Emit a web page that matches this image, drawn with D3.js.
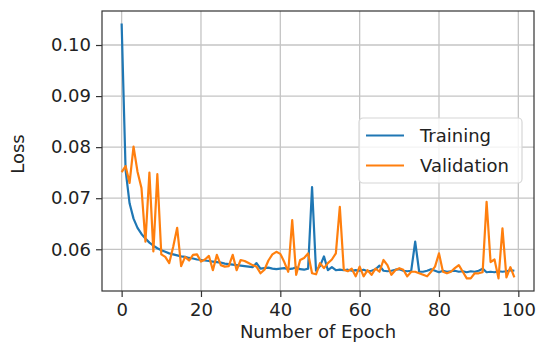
<!DOCTYPE html>
<html>
<head>
<meta charset="utf-8">
<script src="https://cdn.jsdelivr.net/npm/d3@7"></script>
<style>
  body { margin: 0; background: #fff; }
  text { font-family: "DejaVu Sans", sans-serif; fill: #222; }
</style>
</head>
<body>
<svg id="chart" width="550" height="353"></svg>
<script>

let training = [
  0.1042, 0.0755, 0.0690, 0.0660, 0.0642, 0.0630, 0.0621, 0.0613, 0.0607, 0.0602,
  0.0598, 0.0595, 0.0592, 0.0590, 0.0588, 0.0586, 0.0585, 0.0583, 0.0582, 0.0580,
  0.0579, 0.0578, 0.0577, 0.0576, 0.0575, 0.0574, 0.0572, 0.0571, 0.0570, 0.0569,
  0.0568, 0.0567, 0.0566, 0.0565, 0.0573, 0.0562, 0.0563, 0.0564, 0.0562, 0.0561,
  0.0562, 0.0563, 0.0561, 0.0562, 0.0565, 0.0561, 0.0560, 0.0562, 0.0722, 0.0558,
  0.0567, 0.0586, 0.0559, 0.0565, 0.0559, 0.0560, 0.0559, 0.0560, 0.0558, 0.0559,
  0.0558, 0.0560, 0.0557, 0.0558, 0.0561, 0.0568, 0.0558, 0.0557, 0.0558, 0.0560,
  0.0561, 0.0558, 0.0557, 0.0558, 0.0615, 0.0556, 0.0556, 0.0558, 0.0561, 0.0558,
  0.0555, 0.0558, 0.0556, 0.0557, 0.0558, 0.0556, 0.0557, 0.0555, 0.0557, 0.0556,
  0.0558, 0.0562, 0.0555, 0.0556, 0.0555, 0.0557, 0.0556, 0.0557, 0.0559, 0.0558
];

let validation = [
  0.0751, 0.0763, 0.0730, 0.0801, 0.0752, 0.0720, 0.0615, 0.0750, 0.0596, 0.0747,
  0.0590, 0.0585, 0.0573, 0.0605, 0.0642, 0.0567, 0.0585, 0.0578, 0.0589, 0.0590,
  0.0576, 0.0580, 0.0587, 0.0559, 0.0589, 0.0569, 0.0566, 0.0567, 0.0589, 0.0559,
  0.0579, 0.0577, 0.0573, 0.0569, 0.0566, 0.0553, 0.0560, 0.0578, 0.0590, 0.0595,
  0.0591, 0.0575, 0.0556, 0.0657, 0.0550, 0.0579, 0.0583, 0.0592, 0.0553, 0.0551,
  0.0573, 0.0563, 0.0573, 0.0580, 0.0592, 0.0683, 0.0560, 0.0557, 0.0562, 0.0547,
  0.0566, 0.0547, 0.0559, 0.0550, 0.0562, 0.0556, 0.0579, 0.0569, 0.0550, 0.0559,
  0.0563, 0.0560, 0.0547, 0.0556, 0.0556, 0.0553, 0.0550, 0.0547, 0.0556, 0.0566,
  0.0592, 0.0556, 0.0553, 0.0556, 0.0563, 0.0569, 0.0556, 0.0543, 0.0543, 0.0553,
  0.0553, 0.0555, 0.0693, 0.0575, 0.0580, 0.0543, 0.0641, 0.0545, 0.0565, 0.0545
];

let series_names = ["Training", "Validation"];
let series_colors = ["#1f77b4", "#ff7f0e"];
let x_ticks = [0, 20, 40, 60, 80, 100];
let y_ticks = [0.06, 0.07, 0.08, 0.09, 0.10];

let svg = d3.select("#chart"),
    margin = {top: 11, right: 16, bottom: 62, left: 102},
    width = svg.attr("width") - margin.left - margin.right,
    height = svg.attr("height") - margin.top - margin.bottom;

let x = d3.scaleLinear().domain([-4.95, 103.95]).range([0, width]);
let y = d3.scaleLinear().domain([0.05183, 0.10666]).range([height, 0]);

let g = svg.append("g")
    .attr("transform", "translate(" + margin.left + "," + margin.top + ")");

// grid
g.selectAll(".gx").data(x_ticks).enter().append("line")
    .attr("x1", d => x(d)).attr("x2", d => x(d))
    .attr("y1", 0).attr("y2", height)
    .style("stroke", "#c4c4c4").style("stroke-width", 1.3);
g.selectAll(".gy").data(y_ticks).enter().append("line")
    .attr("x1", 0).attr("x2", width)
    .attr("y1", d => y(d)).attr("y2", d => y(d))
    .style("stroke", "#c4c4c4").style("stroke-width", 1.3);

// lines
let line = d3.line().x((d, i) => x(i)).y(d => y(d));
[training, validation].forEach(function(data, k){
    g.append("path")
        .datum(data)
        .attr("d", line)
        .style("fill", "none")
        .style("stroke", series_colors[k])
        .style("stroke-width", 2.2)
        .style("stroke-linejoin", "round");
});

// frame
g.append("rect")
    .attr("width", width).attr("height", height)
    .style("fill", "none").style("stroke", "#333").style("stroke-width", 1.2);

// axes
let xAxis = g.append("g")
    .attr("transform", "translate(0," + height + ")")
    .call(d3.axisBottom(x).tickValues(x_ticks).tickSize(6).tickPadding(6).tickFormat(d3.format("d")));
let yAxis = g.append("g")
    .call(d3.axisLeft(y).tickValues(y_ticks).tickSize(6).tickPadding(5).tickFormat(d3.format(".2f")));
[xAxis, yAxis].forEach(function(a){
    a.select(".domain").remove();
    a.selectAll("line").style("stroke", "#333").style("stroke-width", 1.2);
    a.selectAll("text").style("font-size", "18px").style("fill", "#222")
        .style("font-family", "DejaVu Sans, sans-serif");
});

// axis labels
svg.append("text")
    .attr("x", margin.left + width / 2)
    .attr("y", 338)
    .style("text-anchor", "middle")
    .style("font-size", "18px")
    .text("Number of Epoch");

svg.append("text")
    .attr("transform", "rotate(-90)")
    .attr("x", -(margin.top + height / 2) - 3)
    .attr("y", 24)
    .style("text-anchor", "middle")
    .style("font-size", "18px")
    .text("Loss");

// legend
let legend = svg.append("g").attr("transform", "translate(359,118)");
legend.append("rect")
    .attr("width", 163).attr("height", 65)
    .attr("rx", 4).attr("ry", 4)
    .style("fill", "rgba(255,255,255,0.8)")
    .style("stroke", "#d6d6d6").style("stroke-width", 1.2);
series_names.forEach(function(name, k){
    let cy = 17.5 + k * 30;
    legend.append("line")
        .attr("x1", 7).attr("x2", 45)
        .attr("y1", cy).attr("y2", cy)
        .style("stroke", series_colors[k]).style("stroke-width", 2.2);
    legend.append("text")
        .attr("x", 61).attr("y", cy + 6.5)
        .style("font-size", "18px")
        .text(name);
});

</script>
</body>
</html>
